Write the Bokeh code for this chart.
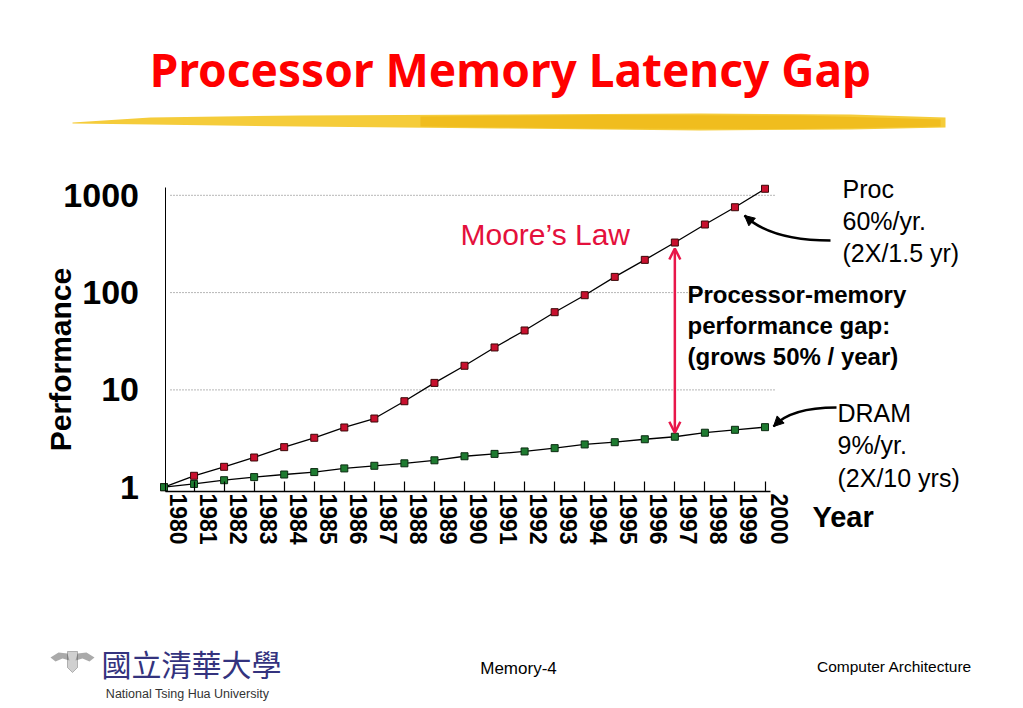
import math
from bokeh.plotting import figure
from bokeh.models import (Range1d, FixedTicker, NumeralTickFormatter, Label, LinearAxis,
                          CustomJSTickFormatter, Arrow, OpenHead, NormalHead, PolyAnnotation)
from bokeh.embed import file_html
from bokeh.resources import INLINE

# ---------------- data ----------------
years = list(range(1980, 2001))
proc = [1.0, 1.31, 1.62, 2.02, 2.58, 3.22, 4.11, 5.08, 7.65, 11.8, 17.7,
        27.3, 40.8, 62.9, 94.0, 145, 217, 327, 501, 754, 1167]
dram = [1.0, 1.08, 1.18, 1.27, 1.35, 1.43, 1.56, 1.66, 1.76, 1.89, 2.08,
        2.20, 2.33, 2.52, 2.75, 2.90, 3.11, 3.30, 3.63, 3.89, 4.14]
y_ticks = [1, 10, 100, 1000]
grid_ticks = [10, 100, 1000]

# ---------------- layout (the frame fills the whole canvas) ----------------
W, H = 1020, 705
PXY = 30.05                 # pixels per year
X_1980 = 163.5              # page x of year 1980
A, B = 486.7, 97.3          # page y of value 1, pixels per decade
X0 = 1980 - X_1980 / PXY
X1 = X0 + W / PXY
Y0 = 10 ** ((A - H) / B)
Y1 = 10 ** (A / B)

def dx(xp):
    return X0 + xp / PXY

def dy(yp):
    return 10 ** ((A - yp) / B)

ARIAL = "Liberation Sans"

p = figure(width=W, height=H, y_axis_type="log",
           x_range=Range1d(X0, X1), y_range=Range1d(Y0, Y1),
           output_backend="svg", toolbar_location=None, min_border=0)
p.outline_line_color = None
p.background_fill_color = "white"
p.border_fill_color = "white"
p.xgrid.visible = False
p.ygrid.visible = False

AX_Y = dy(491)      # value where the x axis sits
AX_X = dx(164.5)    # year where the y axis sits

# x axis: inward ticks at every year
xa = p.xaxis[0]
xa.fixed_location = AX_Y
xa.bounds = (AX_X, dx(770))
xa.ticker = FixedTicker(ticks=years[1:])
xa.formatter = CustomJSTickFormatter(code="return ''")
xa.major_tick_in = 10
xa.major_tick_out = 0
xa.minor_tick_line_color = None
xa.axis_line_color = "black"
xa.axis_line_width = 1.5
xa.major_tick_line_color = "black"
xa.major_tick_line_width = 1.2

# x axis labels, set a little right of their ticks as on the slide
off = 14 / PXY
p.extra_x_ranges = {"lab": Range1d(X0 - off, X1 - off)}
la = LinearAxis(x_range_name="lab", ticker=FixedTicker(ticks=years),
                fixed_location=AX_Y, axis_line_color=None,
                major_tick_line_color=None, minor_tick_line_color=None,
                major_label_orientation="vertical", major_label_standoff=-4,
                major_label_text_font=ARIAL, major_label_text_font_style="bold",
                major_label_text_font_size="23px", major_label_text_color="black")
p.add_layout(la, "below")

# y axis
ya = p.yaxis[0]
ya.fixed_location = AX_X
ya.bounds = (AX_Y, dy(187))
ya.ticker = FixedTicker(ticks=y_ticks)
ya.formatter = NumeralTickFormatter(format="0")
ya.major_tick_in = 0
ya.major_tick_out = 0
ya.minor_tick_line_color = None
ya.axis_line_color = "black"
ya.axis_line_width = 1
ya.major_label_text_font = ARIAL
ya.major_label_text_font_style = "bold"
ya.major_label_text_font_size = "34px"
ya.major_label_text_color = "black"
ya.major_label_standoff = 26

# dotted grid lines at 10, 100, 1000
n = len(grid_ticks)
p.segment(x0=[dx(170)] * n, y0=grid_ticks, x1=[dx(775)] * n, y1=grid_ticks,
          line_color="#6e6e6e", line_dash="1 2", line_width=1)

# series
p.line(years, proc, line_color="black", line_width=1.3)
p.line(years, dram, line_color="black", line_width=1.3)
p.scatter(years, proc, marker="square", size=7, fill_color="#c8102e",
          line_color="#3a0808", line_width=1)
p.scatter(years, dram, marker="square", size=7, fill_color="#1e7b30",
          line_color="#0a2a10", line_width=1)

def label(xp, yp, text, size, color="black", style="normal", font=ARIAL,
          align="left", angle=0.0):
    p.add_layout(Label(x=dx(xp), y=dy(yp), text=text, text_font=font,
                       text_font_size=size, text_color=color,
                       text_font_style=style, text_align=align,
                       text_baseline="middle", angle=angle))

# title and gold brush stroke
label(510, 68, "Processor Memory Latency Gap", "46px", color="#ff0000",
      style="bold", font="Noto Sans", align="center")
top = [(72, 122), (150, 117), (300, 115), (500, 114), (700, 113), (850, 114), (945, 117)]
bot = [(945, 127), (850, 129), (700, 130), (500, 128), (300, 126), (150, 124), (72, 123)]
pts = top + bot
p.add_layout(PolyAnnotation(xs=[dx(a) for a, b in pts], ys=[dy(b) for a, b in pts],
                            fill_color="#f5cc3a", fill_alpha=1.0, line_color=None))
pts2 = [(420, 116), (600, 114.5), (800, 115), (940, 119), (940, 126), (800, 128.5), (600, 128), (420, 126)]
p.add_layout(PolyAnnotation(xs=[dx(a) for a, b in pts2], ys=[dy(b) for a, b in pts2],
                            fill_color="#ecb20c", fill_alpha=0.6, line_color=None))

# axis titles
label(60, 359, "Performance", "30px", style="bold", align="center", angle=math.pi / 2)
label(812, 516, "Year", "29px", style="bold")

# annotations
label(460, 234, "Moore\u2019s Law", "30px", color="#e4103c")
for i, t in enumerate(["Proc", "60%/yr.", "(2X/1.5 yr)"]):
    label(842, 188 + 32 * i, t, "25px")
for i, t in enumerate(["DRAM", "9%/yr.", "(2X/10 yrs)"]):
    label(837, 412 + 32.5 * i, t, "25px")
for i, t in enumerate(["Processor-memory", "performance gap:", "(grows 50% / year)"]):
    label(687, 294 + 31 * i, t, "24px", style="bold")

# red double arrow between the two series at 1997
i97 = years.index(1997)
red = "#e8174a"
p.add_layout(Arrow(x_start=1997, y_start=proc[i97] / 1.15, x_end=1997, y_end=dram[i97] * 1.1,
                   line_color=red, line_width=2.5,
                   start=OpenHead(size=11, line_color=red, line_width=2.5),
                   end=OpenHead(size=11, line_color=red, line_width=2.5)))

# curved black pointers
def curve(p0, c, p2):
    p.quadratic(x0=[dx(p0[0])], y0=[dy(p0[1])], x1=[dx(p2[0])], y1=[dy(p2[1])],
                cx=[dx(c[0])], cy=[dy(c[1])], line_color="black", line_width=2.5)
    t = 0.9
    qx = (1 - t) ** 2 * p0[0] + 2 * (1 - t) * t * c[0] + t ** 2 * p2[0]
    qy = (1 - t) ** 2 * p0[1] + 2 * (1 - t) * t * c[1] + t ** 2 * p2[1]
    p.add_layout(Arrow(x_start=dx(qx), y_start=dy(qy), x_end=dx(p2[0]), y_end=dy(p2[1]),
                       line_color="black", line_width=2.5,
                       end=NormalHead(size=10, fill_color="black", line_color="black")))

curve((830, 240), (770, 240), (744, 215))
curve((836, 407), (790, 407), (773, 426))

# footer
label(518, 668, "Memory-4", "17px", align="center")
label(894, 666, "Computer Architecture", "15.5px", align="center")
label(191, 662, "國立清華大學", "30px", color="#34337e", font="Noto Sans CJK TC",
      align="center")
label(187, 693, "National Tsing Hua University", "12.5px", color="#333333",
      align="center")
# small emblem
wingL = [(50, 657), (58, 652), (67, 653), (69, 660), (62, 658), (55, 661)]
wingR = [(94, 657), (86, 652), (77, 653), (75, 660), (82, 658), (89, 661)]
for w in (wingL, wingR):
    p.add_layout(PolyAnnotation(xs=[dx(a) for a, b in w], ys=[dy(b) for a, b in w],
                                fill_color="#2b2b2b", line_color=None))
shield = [(67, 651), (77, 651), (77, 667), (72, 672), (67, 667)]
p.add_layout(PolyAnnotation(xs=[dx(a) for a, b in shield], ys=[dy(b) for a, b in shield],
                            fill_color="#8a8a8a", line_color="#333333", line_width=1))

open("out.html", "w").write(file_html(p, INLINE))
